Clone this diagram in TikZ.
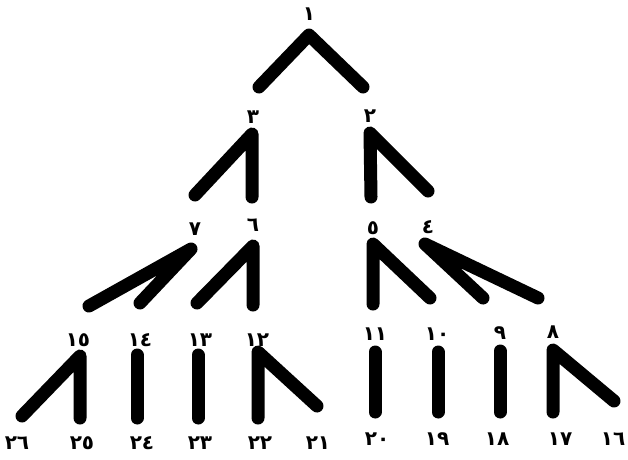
\documentclass[tikz,border=0pt]{standalone}
\usepackage{fontspec}
\newfontfamily\arabicfont[Script=Arabic]{DejaVu Sans}
\begin{document}
\begin{tikzpicture}[x=1pt,y=-1pt,
  stroke/.style={line width=13pt,line cap=round,line join=round,black},
  num/.style={font=\arabicfont\bfseries\fontsize{20}{20}\selectfont,inner sep=0pt,anchor=center}]
\useasboundingbox (0,0) rectangle (628,459);
% level 1
\coordinate (a1) at (309,35); \coordinate (a1l) at (259,87); \coordinate (a1r) at (363,87);
\node[num] (n1) at (309,14) {١};
% level 2
\coordinate (a3) at (252,134); \coordinate (a3b) at (252,197); \coordinate (a3l) at (195,195);
\coordinate (a2) at (370,133); \coordinate (a2b) at (371,197); \coordinate (a2r) at (428,191);
\node[num] (n3) at (253,117) {٣};
\node[num] (n2) at (370,116) {٢};
% level 3
\coordinate (a7) at (191,249); \coordinate (a7l) at (89,306); \coordinate (a7m) at (140,303);
\coordinate (a6) at (253,246); \coordinate (a6b) at (253,305); \coordinate (a6l) at (197,303);
\coordinate (a5) at (373,244); \coordinate (a5b) at (373,304); \coordinate (a5r) at (430,298);
\coordinate (a4) at (425,244); \coordinate (a4m) at (483,298); \coordinate (a4r) at (538,298);
\node[num] (n7) at (195,229) {٧};
\node[num] (n6) at (253,225) {٦};
\node[num] (n5) at (373,228) {٥};
\node[num] (n4) at (428,227) {٤};
% level 4
\coordinate (a15) at (80,356); \coordinate (a15b) at (80,418); \coordinate (a15l) at (22,416);
\coordinate (a14) at (137,355); \coordinate (a14b) at (137,418);
\coordinate (a13) at (198,355); \coordinate (a13b) at (198,418);
\coordinate (a12) at (258,352); \coordinate (a12b) at (258,418); \coordinate (a12r) at (317,406);
\coordinate (a11) at (375,352); \coordinate (a11b) at (375,412);
\coordinate (a10) at (438,352); \coordinate (a10b) at (438,412);
\coordinate (a9) at (500,351); \coordinate (a9b) at (500,412);
\coordinate (a8) at (553,350); \coordinate (a8b) at (553,412); \coordinate (a8r) at (614,401);
\node[num] (n15) at (78,340) {١٥};
\node[num] (n14) at (140,340) {١٤};
\node[num] (n13) at (200,340) {١٣};
\node[num] (n12) at (257,340) {١٢};
\node[num] (n11) at (375,334) {١١};
\node[num] (n10) at (437,334) {١٠};
\node[num] (n9) at (500,333) {٩};
\node[num] (n8) at (553,332) {٨};
% leaves
\node[num] (n26) at (17,443) {٢٦};
\node[num] (n25) at (82,443) {٢٥};
\node[num] (n24) at (142,443) {٢٤};
\node[num] (n23) at (200,443) {٢٣};
\node[num] (n22) at (260,443) {٢٢};
\node[num] (n21) at (318,443) {٢١};
\node[num] (n20) at (377,439) {٢٠};
\node[num] (n19) at (437,439) {١٩};
\node[num] (n18) at (497,439) {١٨};
\node[num] (n17) at (560,439) {١٧};
\node[num] (n16) at (613,439) {١٦};
% strokes
\draw[stroke] (a1l) -- (a1) -- (a1r);
\draw[stroke] (a3l) -- (a3) -- (a3b);
\draw[stroke] (a2b) -- (a2) -- (a2r);
\draw[stroke] (a7l) -- (a7) -- (a7m);
\draw[stroke] (a6l) -- (a6) -- (a6b);
\draw[stroke] (a5b) -- (a5) -- (a5r);
\draw[stroke] (a4m) -- (a4) -- (a4r);
\draw[stroke] (a15l) -- (a15) -- (a15b);
\draw[stroke] (a14) -- (a14b);
\draw[stroke] (a13) -- (a13b);
\draw[stroke] (a12b) -- (a12) -- (a12r);
\draw[stroke] (a11) -- (a11b);
\draw[stroke] (a10) -- (a10b);
\draw[stroke] (a9) -- (a9b);
\draw[stroke] (a8b) -- (a8) -- (a8r);
\end{tikzpicture}
\end{document}
